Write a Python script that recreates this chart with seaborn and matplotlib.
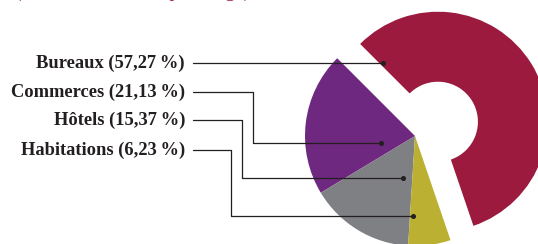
import matplotlib.pyplot as plt
import seaborn as sns

# data (pie order, counter-clockwise from the upper left)
categories = ["Commerces", "Hôtels", "Habitations", "Bureaux"]
shares = [21.13, 15.37, 6.23, 57.27]
colors = ["#6e2880", "#7f8084", "#bcb033", "#9b1a3e"]
label_order = ["Bureaux", "Commerces", "Hôtels", "Habitations"]

W, H = 538, 244

sns.set_theme(style="white")
plt.rcParams["font.family"] = ["Liberation Serif", "DejaVu Serif"]

fig = plt.figure(figsize=(W / 100, H / 100), dpi=100)
ax = fig.add_axes([0, 0, 1, 1])


def fy(y):
    # image pixel row -> data y
    return H - y


# pie, Bureaux pulled out and hollowed (explode is in data units here)
cx, cy, r = 415, fy(136), 110
explode = [0, 0, 0, 27]
wedges, _ = ax.pie(shares, colors=colors, startangle=135, counterclock=True,
                   center=(cx, cy), radius=r, explode=explode,
                   wedgeprops=dict(linewidth=0))
wedges[3].set_width(70)

# labels with leader lines
line_col = "#231f20"
label_y = [63, 92, 120, 150]
elbow_x = [None, 253, 242, 231]
anchors = [(383, 63), (381, 143), (403, 178), (413, 216)]
for name, ly, ex, (px, py) in zip(label_order, label_y, elbow_x, anchors):
    pct = shares[categories.index(name)]
    txt = f"{name} ({pct:.2f}".replace(".", ",") + "\u2009%)"
    ax.text(185, fy(ly), txt, ha="right", va="center", fontsize=13.3,
            fontweight="bold", color=line_col)
    if ex is None:
        xs, ys = [193, px], [ly, py]
    else:
        xs, ys = [193, ex, ex, px], [ly, ly, py, py]
    ax.plot(xs, [fy(v) for v in ys], color=line_col, lw=0.9)
    ax.plot(px, fy(py), "o", color=line_col, ms=2.6)

# title cut off at the top edge
ax.text(15, fy(-3.5), "(en % de la surface par usage)", ha="left", va="baseline",
        fontsize=14, color="#9b1a3e")

ax.set_xlim(0, W)
ax.set_ylim(0, H)
ax.axis("off")
fig.savefig("out.png", dpi=100)
